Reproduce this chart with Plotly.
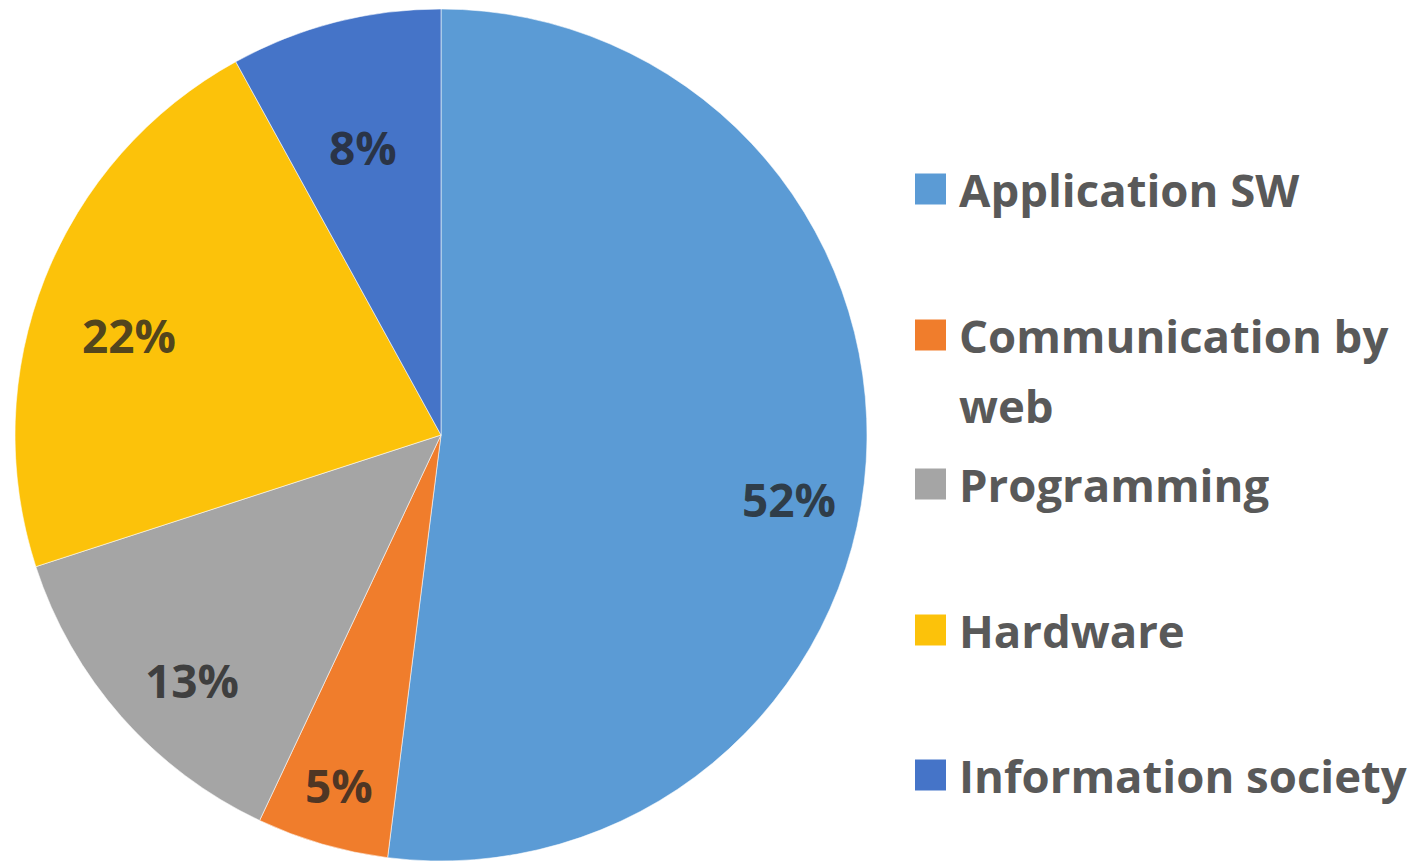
import math
import textwrap
import plotly.graph_objects as go

# Share of topics (percent), drawn clockwise from 12 o'clock
categories = ["Application SW", "Communication by web", "Programming", "Hardware", "Information society"]
shares = [52, 5, 13, 22, 8]
colors = ["#5B9BD5", "#F07D2C", "#A5A5A5", "#FCC20A", "#4574C8"]

# placement of each percentage label: fraction of the radius and angular nudge (degrees)
label_radius = [0.83, 0.855, 0.82, 0.77, 0.70]
label_nudge = [6.8, 0.0, -3.2, -3.9, -0.8]

W, H = 1413, 862
CX, CY, R = 441, 435, 426          # pie centre and radius in pixels
LEG_X = 915                         # legend swatch left edge
LEG_ROWS = [189, 335, 484, 630, 775]  # legend row centres (pixels from top)
LINE_STEP = 70

FONT = "Open Sans"
TEXT_GREY = "#595959"

fig = go.Figure(
    go.Pie(
        labels=categories,
        values=shares,
        sort=False,
        direction="clockwise",
        rotation=0,
        textinfo="none",
        hoverinfo="label+percent",
        marker=dict(colors=colors, line=dict(color="rgba(255,255,255,0.55)", width=1)),
        domain=dict(x=[(CX - R) / W, (CX + R) / W], y=[1 - (CY + R) / H, 1 - (CY - R) / H]),
        showlegend=False,
    )
)

annotations = []
total = sum(shares)
cum = 0
for v, rf, nudge in zip(shares, label_radius, label_nudge):
    theta = math.radians(360 * (cum + v / 2) / total + nudge)
    cum += v
    px = CX + rf * R * math.sin(theta)
    py = CY - rf * R * math.cos(theta)
    annotations.append(dict(
        x=px / W, y=1 - py / H, xref="paper", yref="paper",
        text=f"{round(100 * v / total)}%", showarrow=False,
        xanchor="center", yanchor="middle",
        font=dict(family=FONT, size=46, color="rgba(35,35,35,0.78)", weight=700),
    ))

shapes = []
sw = 31
for name, col, yc in zip(categories, colors, LEG_ROWS):
    shapes.append(dict(
        type="rect", xref="paper", yref="paper",
        x0=LEG_X / W, x1=(LEG_X + sw) / W,
        y0=1 - (yc + sw / 2) / H, y1=1 - (yc - sw / 2) / H,
        fillcolor=col, line=dict(width=0),
    ))
    for k, line in enumerate(textwrap.wrap(name, 19)):
        annotations.append(dict(
            x=957 / W, y=1 - (yc + k * LINE_STEP) / H, xref="paper", yref="paper",
            text=line, showarrow=False, xanchor="left", yanchor="middle",
            font=dict(family=FONT, size=45.5, color=TEXT_GREY, weight=700),
        ))

fig.update_layout(
    width=W, height=H,
    margin=dict(l=0, r=0, t=0, b=0),
    paper_bgcolor="white", plot_bgcolor="white",
    annotations=annotations, shapes=shapes,
)

fig.write_html("out.html")
